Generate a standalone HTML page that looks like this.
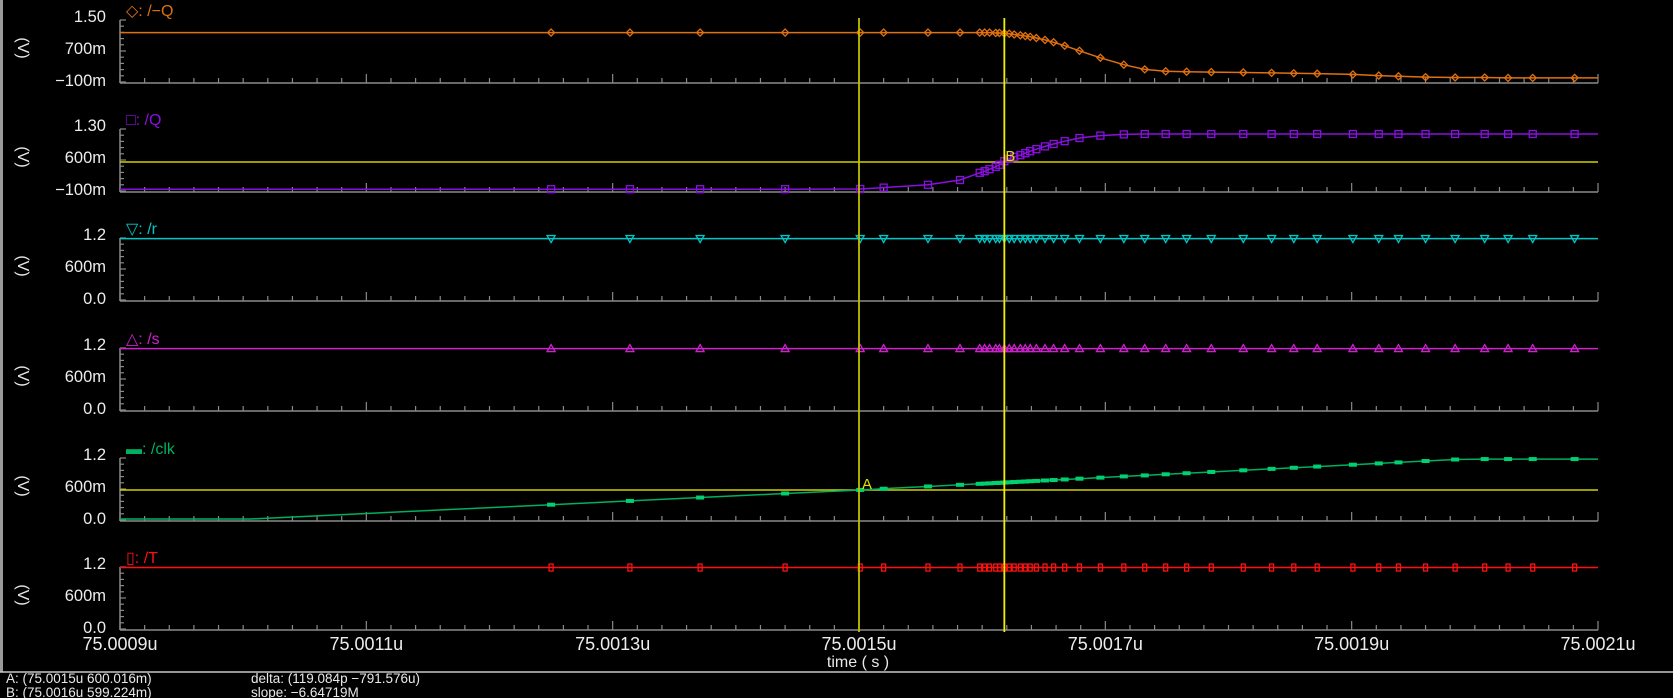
<!DOCTYPE html>
<html><head><meta charset="utf-8"><style>
html,body{margin:0;padding:0;background:#000;width:1673px;height:698px;overflow:hidden}
svg text{font-family:"Liberation Sans",sans-serif}
</style></head><body>
<svg id="chart" width="1673" height="698" viewBox="0 0 1673 698" xmlns="http://www.w3.org/2000/svg">
<rect x="0" y="0" width="1673" height="698" fill="#000"/>
<rect x="0" y="0" width="3" height="672" fill="#9a9a9a"/>
<g id="g"></g>
<line x1="0" y1="672" x2="1673" y2="672" stroke="#c8c8c8" stroke-width="1.5"/>
<text x="6" y="683" fill="#e8e8e8" font-size="13.5">A: (75.0015u 600.016m)</text>
<text x="6" y="697" fill="#e8e8e8" font-size="13.5">B: (75.0016u 599.224m)</text>
<text x="251" y="683" fill="#e8e8e8" font-size="13.5">delta: (119.084p −791.576u)</text>
<text x="251" y="697" fill="#e8e8e8" font-size="13.5">slope: −6.64719M</text>
<text x="858" y="667" fill="#e8e8e8" font-size="16" text-anchor="middle">time ( s )</text>
</svg>
<script>
// time in units of 0.0001u past 75.0009u
const xTickLabels = ["75.0009u","75.0011u","75.0013u","75.0015u","75.0017u","75.0019u","75.0021u"];
const times = [3.50,4.14,4.71,5.40,6.01,6.20,6.56,6.82,6.98,7.02,7.06,7.11,7.14,7.18,7.22,7.26,7.31,7.35,7.39,7.44,7.51,7.58,7.67,7.79,7.96,8.15,8.32,8.49,8.66,8.86,9.12,9.35,9.53,9.72,10.01,10.22,10.38,10.60,10.84,11.08,11.27,11.47,11.81];
const nQ = [1.15,1.15,1.15,1.15,1.15,1.15,1.15,1.15,1.15,1.15,1.15,1.14,1.14,1.13,1.12,1.10,1.08,1.06,1.04,1.01,0.96,0.90,0.81,0.68,0.50,0.32,0.20,0.15,0.14,0.13,0.12,0.11,0.10,0.09,0.07,0.04,0.02,0.00,-0.01,-0.01,-0.02,-0.02,-0.02];
const Q = [-0.08,-0.08,-0.08,-0.08,-0.075,-0.04,0.03,0.15,0.33,0.37,0.42,0.48,0.53,0.62,0.68,0.73,0.77,0.82,0.87,0.92,0.99,1.05,1.12,1.2,1.26,1.29,1.3,1.3,1.3,1.3,1.3,1.3,1.3,1.3,1.3,1.3,1.3,1.3,1.3,1.3,1.3,1.3,1.3];
const R = times.map(()=>1.17);
const S = times.map(()=>1.17);
const T = times.map(()=>1.17);
const clkKneeT = [0,1.06];
const clkKneeV = [0,0];
const CLK = [0.296,0.374,0.444,0.528,0.601,0.626,0.673,0.707,0.728,0.733,0.738,0.745,0.749,0.754,0.759,0.765,0.771,0.776,0.782,0.788,0.797,0.806,0.818,0.834,0.856,0.881,0.902,0.925,0.947,0.973,1.007,1.037,1.06,1.085,1.123,1.15,1.171,1.2,1.231,1.24,1.24,1.24,1.24];
const cursorTimes = [6.0,7.18];
const cursorLevels = [0.6,0.6];

const NS="http://www.w3.org/2000/svg";
const g=document.getElementById('g');
const X0=120,X1=1598,TMAX=12;
function sx(t){return X0+(X1-X0)*t/TMAX;}
function el(tag,at){const e=document.createElementNS(NS,tag);for(const k in at)e.setAttribute(k,at[k]);g.appendChild(e);return e;}

const panels=[
 {name:'nq',label:'/−Q',B:83,vTop:1.5,yTop:19,vBot:-0.1,yBot:81,ticks:['1.50','700m','−100m'],color:'#e07010',vals:nQ,mk:'diamond'},
 {name:'q',label:'/Q',B:192,vTop:1.3,yTop:134,vBot:-0.1,yBot:190,ticks:['1.30','600m','−100m'],color:'#8a10e0',vals:Q,mk:'square'},
 {name:'r',label:'/r',B:301,vTop:1.2,yTop:237,vBot:0,yBot:299,ticks:['1.2','600m','0.0'],color:'#00c8c8',vals:R,mk:'down'},
 {name:'s',label:'/s',B:411,vTop:1.2,yTop:347,vBot:0,yBot:409,ticks:['1.2','600m','0.0'],color:'#d020d0',vals:S,mk:'up'},
 {name:'clk',label:'/clk',B:521,vTop:1.2,yTop:461,vBot:0,yBot:519,ticks:['1.2','600m','0.0'],color:'#00b060',vals:CLK,mk:'fill'},
 {name:'t',label:'/T',B:630,vTop:1.2,yTop:566,vBot:0,yBot:628,ticks:['1.2','600m','0.0'],color:'#ff1010',vals:T,mk:'tall'}
];
panels.forEach((p,pi)=>{
 const sy=v=>p.yBot+(v-p.vBot)*(p.yTop-p.yBot)/(p.vTop-p.vBot);
 p.sy=sy;
 let e=el('line',{x1:X0,y1:p.B,x2:X1,y2:p.B,stroke:'#8a8a8a','stroke-width':1.5});
 
 
 e=el('line',{x1:X0,y1:p.B-63,x2:X0,y2:p.B,stroke:'#8a8a8a','stroke-width':1.5});
 
 
 for(let i=0;i<=60;i++){const x=sx(i*0.2);const h=(i%10==0)?9:5;
  e=el('line',{x1:x,y1:p.B,x2:x,y2:p.B-h,stroke:'#8a8a8a','stroke-width':1.2});
  
  }
 for(let i=0;i<=10;i++){const y=p.B-1-i*6.2;const w=(i%5==0)?6:4;
  e=el('line',{x1:X0,y1:y,x2:X0+w,y2:y,stroke:'#8a8a8a','stroke-width':1.2});
  
  }
 p.ticks.forEach((t,i)=>{const y=p.B-67+i*32;
  e=el('text',{x:106,y:y+6,fill:'#ececec','font-size':16.5,'text-anchor':'end'});e.textContent=t;
  
  });
 e=el('text',{x:0,y:0,fill:'#e8e8e8','font-size':16,'text-anchor':'middle',transform:`translate(18,${p.B-35}) rotate(90)`});e.textContent='(V)';
 
 
 const sym={diamond:'◇',square:'□',down:'▽',up:'△',fill:'▬',tall:'▯'}[p.mk];
 e=el('text',{x:126,y:p.B-67,fill:p.color,'font-size':16});e.textContent=sym+': '+p.label;
 
 
});
xTickLabels.forEach((l,i)=>{const e=el('text',{x:sx(i*2),y:650,fill:'#ececec','font-size':18,'text-anchor':'middle'});e.textContent=l;
 
 });
[1,4].forEach((pi,k)=>{const p=panels[pi];const y=p.sy(cursorLevels[k]);
 const e=el('line',{x1:X0,y1:y,x2:X1,y2:y,stroke:'#d0d000','stroke-width':1.5});
 
 });
panels.forEach(p=>{
 let ts=[0],vs=[p.vals[0]];
 if(p.name==='clk'){ts=clkKneeT.slice();vs=clkKneeV.slice();}
 ts=ts.concat(times,[12]);vs=vs.concat(p.vals,[p.vals[p.vals.length-1]]);
 const pts=ts.map((t,i)=>sx(t).toFixed(1)+','+p.sy(vs[i]).toFixed(1)).join(' ');
 let e=el('polyline',{points:pts,fill:'none',stroke:p.color,'stroke-width':1.5});
 
 
 times.forEach((t,i)=>{const x=sx(t),y=p.sy(p.vals[i]);let m;
  if(p.mk==='diamond')m=el('polygon',{points:`${x-3.5},${y} ${x},${y-3.5} ${x+3.5},${y} ${x},${y+3.5}`,fill:'none',stroke:p.color,'stroke-width':1.3});
  else if(p.mk==='square')m=el('rect',{x:x-3.5,y:y-3.5,width:7,height:7,fill:'none',stroke:p.color,'stroke-width':1.3});
  else if(p.mk==='down')m=el('polygon',{points:`${x-4},${y-3} ${x+4},${y-3} ${x},${y+4}`,fill:'none',stroke:p.color,'stroke-width':1.3});
  else if(p.mk==='up')m=el('polygon',{points:`${x-4},${y+3} ${x+4},${y+3} ${x},${y-4}`,fill:'none',stroke:p.color,'stroke-width':1.3});
  else if(p.mk==='fill')m=el('rect',{x:x-4,y:y-2,width:8,height:4,fill:'#00d070'});
  else m=el('rect',{x:x-2,y:y-3.5,width:4,height:7,fill:'none',stroke:p.color,'stroke-width':1.3});
  
  });
});
cursorTimes.forEach((t,k)=>{const x=sx(t);
 const e=el('line',{x1:x,y1:18,x2:x,y2:632,stroke:k==0?'#c0c000':'#f0f000','stroke-width':1.8});
 
 });
let e=el('text',{x:sx(cursorTimes[0])+3,y:panels[4].sy(0.6)-1,fill:'#e0e000','font-size':15});e.textContent='A';


e=el('text',{x:sx(cursorTimes[1])+1,y:panels[1].sy(0.6)-1,fill:'#e0e000','font-size':15});e.textContent='B';


</script>
</body></html>
